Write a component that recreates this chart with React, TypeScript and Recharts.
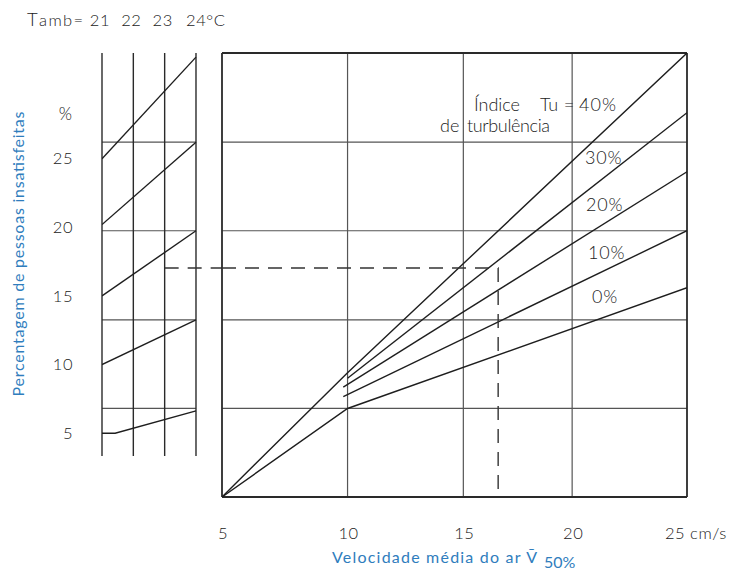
import { Line, LineChart, ReferenceLine, XAxis, YAxis } from 'recharts'

// left nomogram: ambient temperature columns and the dissatisfied-percentage scale
const tambValues = [21, 22, 23, 24]
const pctTicks = [5, 10, 15, 20, 25]
const gridLevels = [6.8, 13.25, 19.75, 26.2]
const pctDomain: [number, number] = [0.35, 32.7]
const tambColumnBottom = 3.34

const tamb5 = [
  { t: 21, pd: 5 },
  { t: 21.42, pd: 5 },
  { t: 24, pd: 6.62 },
]
const tamb10 = [
  { t: 21, pd: 10 },
  { t: 24, pd: 13.25 },
]
const tamb15 = [
  { t: 21, pd: 15 },
  { t: 24, pd: 19.75 },
]
const tamb20 = [
  { t: 21, pd: 20.2 },
  { t: 24, pd: 26.2 },
]
const tamb25 = [
  { t: 21, pd: 25 },
  { t: 24, pd: 32.4 },
]
const tambLines = [tamb5, tamb10, tamb15, tamb20, tamb25]

// right nomogram: mean air speed vs turbulence intensity
const speedTicks = [5, 10, 15, 20, 25]
// the printed speed scale is not evenly spaced: where each tick sits along the axis (0..1)
const speedTickPos = [0, 0.27, 0.519, 0.753, 1]

const tu0 = [
  { v: 5, pd: 0.35 },
  { v: 10, pd: 6.8 },
  { v: 25, pd: 15.6 },
]
const tu10 = [
  { v: 9.83, pd: 7.66 },
  { v: 25, pd: 19.75 },
]
const tu20 = [
  { v: 9.83, pd: 8.35 },
  { v: 25, pd: 24.05 },
]
const tu30 = [
  { v: 10, pd: 9.0 },
  { v: 25, pd: 28.35 },
]
const tu40 = [
  { v: 5, pd: 0.35 },
  { v: 10, pd: 9.41 },
  { v: 25, pd: 32.7 },
]
const tuLines = [tu0, tu10, tu20, tu30, tu40]

// worked example (dashed)
const exampleTamb = [
  { t: 23, pd: 17.03 },
  { t: 24.83, pd: 17.03 },
]
const exampleSpeed = [
  { v: 5, pd: 17.03 },
  { v: 16.6, pd: 17.03 },
  { v: 16.6, pd: 0.35 },
]

const FONT = 'Lato, "Open Sans", sans-serif'
const TEXT = '#222'
const BLUE = '#2f7dbd'
const INK = '#1e1e1e'
const GRID = '#555'

// d3-style piecewise linear scale so the uneven speed axis can go through XAxis
function piecewiseScale(stops: number[], pos: number[]): any {
  let domain = [stops[0], stops[stops.length - 1]]
  let range = [0, 1]
  const scale: any = (value: number) => {
    let i = 1
    while (i < stops.length - 1 && value > stops[i]) i++
    const k = (value - stops[i - 1]) / (stops[i] - stops[i - 1])
    const f = pos[i - 1] + k * (pos[i] - pos[i - 1])
    return range[0] + f * (range[1] - range[0])
  }
  scale.domain = (d?: number[]) => {
    if (d === undefined) return domain.slice()
    domain = d.slice()
    return scale
  }
  scale.range = (r?: number[]) => {
    if (r === undefined) return range.slice()
    range = r.slice()
    return scale
  }
  scale.copy = () => piecewiseScale(stops, pos).domain(domain).range(range)
  scale.ticks = () => stops.slice()
  scale.tickFormat = () => (v: number) => String(v)
  scale.invert = (px: number) => {
    const f = (px - range[0]) / (range[1] - range[0])
    let i = 1
    while (i < pos.length - 1 && f > pos[i]) i++
    const k = (f - pos[i - 1]) / (pos[i] - pos[i - 1])
    return stops[i - 1] + k * (stops[i] - stops[i - 1])
  }
  return scale
}

const speedScale = piecewiseScale(speedTicks, speedTickPos)

function TambTick(props: any) {
  const { x, payload } = props
  const last = payload.value === 24
  return (
    <text
      x={last ? x - 10 : x - 2}
      y={26}
      textAnchor={last ? 'start' : 'middle'}
      fontFamily={FONT}
      fontSize={16.5}
      fontWeight={300}
      letterSpacing={0.6}
      fill={TEXT}
    >
      {last ? `${payload.value}°C` : payload.value}
    </text>
  )
}

function PctTick(props: any) {
  const { y, payload } = props
  return (
    <text
      x={73}
      y={y}
      dy="0.35em"
      textAnchor="end"
      fontFamily={FONT}
      fontSize={16.5}
      fontWeight={300}
      letterSpacing={0.5}
      fill={TEXT}
    >
      {payload.value}
    </text>
  )
}

function SpeedTick(props: any) {
  const { x, payload } = props
  const last = payload.value === 25
  return (
    <text
      x={last ? x - 22 : x + 1}
      y={539}
      textAnchor={last ? 'start' : 'middle'}
      fontFamily={FONT}
      fontSize={16.5}
      fontWeight={300}
      letterSpacing={0.5}
      fill={TEXT}
    >
      {last ? `${payload.value} cm/s` : payload.value}
    </text>
  )
}

export default function App() {
  return (
    <div style={{ position: 'absolute', left: 0, top: 0, width: 745, height: 571, background: '#fff' }}>
      <div style={{ position: 'absolute', left: 0, top: 0 }}>
        <LineChart width={230} height={571} margin={{ top: 23, right: 8, bottom: 74, left: 0 }}>
          <XAxis
            type="number"
            dataKey="t"
            orientation="top"
            domain={[21, 24.83]}
            ticks={tambValues}
            interval={0}
            height={30}
            axisLine={false}
            tickLine={false}
            tick={(p: any) => <TambTick {...p} />}
            allowDataOverflow
          />
          <YAxis
            type="number"
            domain={pctDomain}
            ticks={pctTicks}
            interval={0}
            width={102}
            axisLine={false}
            tickLine={false}
            tick={(p: any) => <PctTick {...p} />}
            allowDataOverflow
          />
          {gridLevels.map((g) => (
            <ReferenceLine
              key={`h${g}`}
              segment={[
                { x: 21, y: g },
                { x: 24, y: g },
              ]}
              stroke={GRID}
              strokeWidth={1.2}
            />
          ))}
          {tambValues.map((t) => (
            <ReferenceLine
              key={`v${t}`}
              segment={[
                { x: t, y: tambColumnBottom },
                { x: t, y: pctDomain[1] },
              ]}
              stroke="#2a2a2a"
              strokeWidth={1.4}
            />
          ))}
          {tambLines.map((d, i) => (
            <Line
              key={i}
              data={d}
              dataKey="pd"
              type="linear"
              stroke={INK}
              strokeWidth={1.4}
              dot={false}
              isAnimationActive={false}
            />
          ))}
          <Line
            data={exampleTamb}
            dataKey="pd"
            type="linear"
            stroke="#333"
            strokeWidth={1.4}
            strokeDasharray="14 9"
            dot={false}
            isAnimationActive={false}
          />
        </LineChart>
      </div>

      <div style={{ position: 'absolute', left: 200, top: 0 }}>
        <LineChart width={545} height={571} margin={{ top: 53, right: 58, bottom: 44, left: 22 }}>
          <XAxis
            type="number"
            dataKey="v"
            scale={speedScale}
            domain={[5, 25]}
            ticks={speedTicks}
            interval={0}
            height={30}
            axisLine={false}
            tickLine={false}
            tick={(p: any) => <SpeedTick {...p} />}
            allowDataOverflow
          />
          <YAxis type="number" domain={pctDomain} hide allowDataOverflow />
          {speedTicks.slice(1, -1).map((v) => (
            <ReferenceLine key={`gv${v}`} x={v} stroke={GRID} strokeWidth={1.2} />
          ))}
          {gridLevels.map((g) => (
            <ReferenceLine key={`gh${g}`} y={g} stroke={GRID} strokeWidth={1.2} />
          ))}
          <ReferenceLine x={5} stroke="#2a2a2a" strokeWidth={1.8} />
          <ReferenceLine x={25} stroke="#2a2a2a" strokeWidth={1.8} />
          <ReferenceLine y={pctDomain[0]} stroke="#2a2a2a" strokeWidth={1.8} />
          <ReferenceLine y={pctDomain[1]} stroke="#2a2a2a" strokeWidth={1.8} />
          {tuLines.map((d, i) => (
            <Line
              key={i}
              data={d}
              dataKey="pd"
              type="linear"
              stroke={INK}
              strokeWidth={1.4}
              dot={false}
              isAnimationActive={false}
            />
          ))}
          <Line
            data={exampleSpeed}
            dataKey="pd"
            type="linear"
            stroke="#333"
            strokeWidth={1.4}
            strokeDasharray="14 9"
            dot={false}
            isAnimationActive={false}
          />
        </LineChart>
      </div>

      <svg
        width={745}
        height={571}
        style={{ position: 'absolute', left: 0, top: 0, pointerEvents: 'none' }}
        fontFamily={FONT}
        fontWeight={300}
      >
        <text x={27} y={26} fontSize={16.5} fill={TEXT} textLength={56} lengthAdjust="spacing">
          <tspan fontSize={18.5}>T</tspan>amb=
        </text>
        <text x={72} y={120} fontSize={17} fill={TEXT} textAnchor="end">
          %
        </text>
        <g fill={BLUE} fontWeight={400}>
          <text
            transform="translate(18,254) rotate(-90)"
            x={-142.5}
            dy="0.35em"
            fontSize={16}
            textLength={285}
            lengthAdjust="spacing"
          >
            Percentagem de pessoas insatisfeitas
          </text>
          <text x={332} y={563} fontSize={16} textLength={205} lengthAdjust="spacing">
            Velocidade média do ar V̄
          </text>
          <text x={544} y={568} fontSize={16}>
            50%
          </text>
        </g>
        <g fontSize={18} fill={TEXT}>
          <text x={474} y={111} textLength={46} lengthAdjust="spacing">Índice</text>
          <text x={540} y={111}>Tu</text>
          <text x={569} y={111} textAnchor="middle">=</text>
          <text x={579} y={111} letterSpacing={1}>40%</text>
          <text x={440} y={132}>de</text>
          <text x={467} y={132} textLength={83} lengthAdjust="spacing">turbulência</text>
          <text x={585} y={164} letterSpacing={0.8}>30%</text>
          <text x={586} y={211} letterSpacing={0.8}>20%</text>
          <text x={588} y={259} letterSpacing={0.8}>10%</text>
          <text x={592} y={303} letterSpacing={0.8}>0%</text>
        </g>
      </svg>
    </div>
  )
}
